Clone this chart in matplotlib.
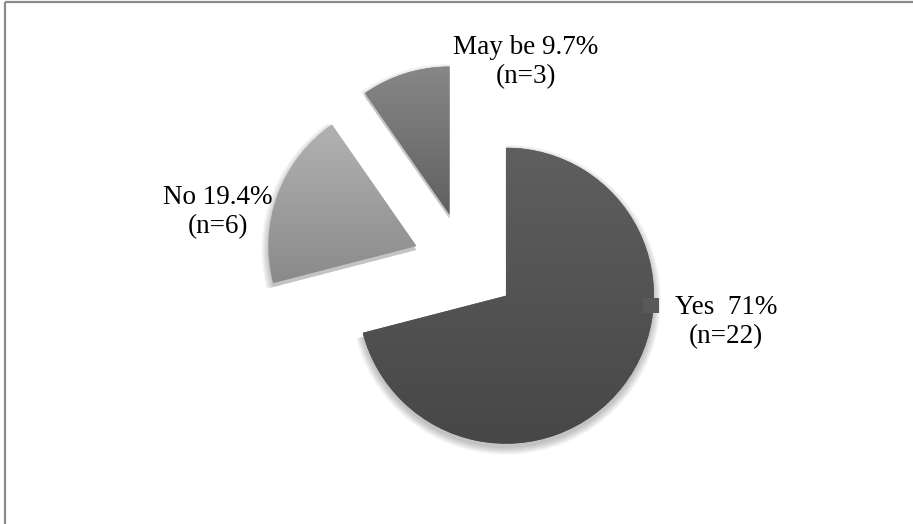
import numpy as np
import matplotlib
matplotlib.use("Agg")
import matplotlib.pyplot as plt
from matplotlib.patches import Wedge, Rectangle
from matplotlib.colors import LinearSegmentedColormap

# datos del grafico
labels = ["Yes", "No", "May be"]
counts = [22, 6, 3]
pct_labels = ["71%", "19.4%", "9.7%"]
label_sep = ["  ", " ", " "]

# colores (arriba, abajo) para el degradado de cada sector
top_colors = ["#5f5f5f", "#b2b2b2", "#878787"]
bottom_colors = ["#474747", "#8a8a8a", "#606060"]

W, H = 913, 524
fig = plt.figure(figsize=(W / 100, H / 100), dpi=100)
ax = fig.add_axes([0, 0, 1, 1])

radius = 148
center = (465, H - 264)
explode = [0.35 * radius] * len(counts)

wedges, _ = ax.pie(counts, startangle=90, counterclock=False, radius=radius,
                   center=center, explode=explode,
                   wedgeprops=dict(linewidth=0, zorder=3))

# sombra suave debajo de los sectores
for w in wedges:
    cx, cy = w.center
    for k in range(8):
        sh = Wedge((cx, cy - 4), w.r + k * 1.0, w.theta1, w.theta2,
                   facecolor="black", edgecolor="none", alpha=0.03, zorder=1)
        ax.add_patch(sh)

# degradado vertical dentro de cada sector
grad = np.linspace(0, 1, 256).reshape(-1, 1)
for w, c_top, c_bot in zip(wedges, top_colors, bottom_colors):
    w.set_facecolor(c_top)
    ext = w.get_path().get_extents()
    cmap = LinearSegmentedColormap.from_list("g", [c_bot, c_top])
    im = ax.imshow(grad, extent=(ext.x0, ext.x1, ext.y0, ext.y1), origin="lower",
                   cmap=cmap, aspect="auto", zorder=4, interpolation="bilinear")
    im.set_clip_path(w)

# etiquetas
font = dict(family="Liberation Serif", size=19.5, color="black")
label_pos = [(726, H - 322), (218, H - 212), (526, H - 62)]
for lab, sep, pct, n, (x, y) in zip(labels, label_sep, pct_labels, counts, label_pos):
    ax.text(x, y, f"{lab}{sep}{pct}\n(n={n})", ha="center", va="center",
            linespacing=1.2, zorder=6, **font)

# marcador de leyenda junto a la etiqueta de Yes
ax.add_patch(Rectangle((643, H - 313), 16, 15, facecolor="#595959",
                       edgecolor="none", zorder=6))

# marco de la figura
ax.plot([5, 5], [0, H - 2], color="#8c8c8c", lw=1.6, zorder=7, solid_capstyle="butt")
ax.plot([5, W], [H - 2, H - 2], color="#8c8c8c", lw=1.6, zorder=7, solid_capstyle="butt")

ax.set_xlim(0, W)
ax.set_ylim(0, H)
ax.set_aspect("equal")
ax.axis("off")

fig.savefig("out.png", dpi=100, facecolor="white")
